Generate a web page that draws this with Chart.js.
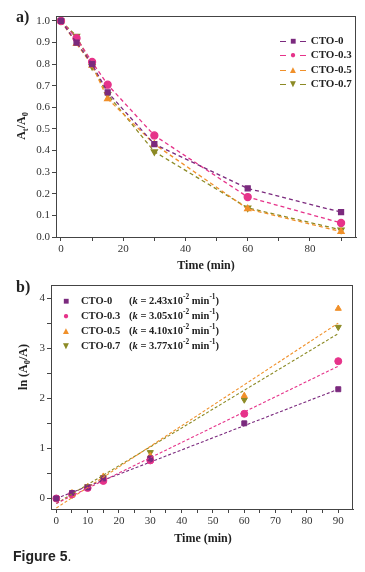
<!DOCTYPE html>
<html>
<head>
<meta charset="utf-8">
<script src="https://cdn.jsdelivr.net/npm/chart.js@4"></script>
<style>
  body { margin: 0; background: #fff; width: 365px; height: 572px; position: relative; overflow: hidden; font-family: "Liberation Serif", serif; }
  canvas { position: absolute; left: 0; }
  .lbl { position: absolute; font-weight: bold; color: #222; white-space: nowrap; }
  .ytitle { position: absolute; font-weight: bold; font-size: 12px; color: #222; white-space: nowrap; transform: translate(-50%, -50%) rotate(-90deg); }
  .xtitle { position: absolute; font-weight: bold; font-size: 12px; color: #222; transform: translate(-50%, -50%); white-space: nowrap; }
  .leg { position: absolute; font-weight: bold; font-size: 11px; color: #222; white-space: nowrap; }
  .leg .row { height: 14.3px; line-height: 14.3px; position: relative; }
  .dash { display: inline-block; width: 6px; border-top: 1.4px solid; vertical-align: middle; margin: 0 2px; }
  .mk { display: inline-block; width: 10px; text-align: center; font-size: 10px; }
  sub, sup { font-size: 70%; }
</style>
</head>
<body>
<canvas id="chartA" width="365" height="275" style="top:0"></canvas>
<canvas id="chartB" width="365" height="275" style="top:272px"></canvas>

<div class="lbl" style="left:16px; top:8px; font-size:16px;">a)</div>
<div class="ytitle" style="left:22px; top:126px;">A<sub>t</sub>/A<sub>0</sub></div>
<div class="xtitle" style="left:206px; top:265px;">Time (min)</div>
<div class="leg" id="legA" style="left:278px; top:33px;"></div>

<div class="lbl" style="left:16px; top:278px; font-size:16px;">b)</div>
<div class="ytitle" style="left:24px; top:367px;">ln (A<sub>0</sub>/A)</div>
<div class="xtitle" style="left:203px; top:538px;">Time (min)</div>
<div class="leg" id="legB" style="left:61px; top:289px; font-size:10.5px;"></div>

<div class="lbl" style="left:13px; top:548px; font-size:14px; font-family:'Liberation Sans', sans-serif;">Figure 5<span style="font-weight:normal">.</span></div>

<script>
const times = [0, 5, 10, 15, 30, 60, 90];
const names = ['CTO-0', 'CTO-0.3', 'CTO-0.5', 'CTO-0.7'];
const kLabels = ['2.43', '3.05', '4.10', '3.77'];
const colors = ['#7b2a7e', '#e6338a', '#f0902a', '#8c8a25'];
const markers = ['rect', 'circle', 'triangle', 'triangle'];
const markerRot = [0, 0, 0, 180];
const markerChars = ['\u25A0', '\u25CF', '\u25B2', '\u25BC'];

// panel a: At/A0
const ratio0 = [1.0, 0.90, 0.80, 0.67, 0.43, 0.225, 0.115];
const ratio03 = [1.0, 0.92, 0.81, 0.705, 0.47, 0.185, 0.065];
const ratio05 = [1.0, 0.895, 0.795, 0.64, 0.43, 0.13, 0.025];
const ratio07 = [1.0, 0.93, 0.79, 0.66, 0.395, 0.135, 0.033];

// panel b: ln(A0/A)
const ln0 = [0, 0.11, 0.22, 0.40, 0.80, 1.50, 2.18];
const ln03 = [0, 0.08, 0.21, 0.35, 0.76, 1.69, 2.74];
const ln05 = [0, 0.11, 0.23, 0.44, 0.85, 2.05, 3.79];
const ln07 = [0, 0.07, 0.24, 0.42, 0.92, 1.97, 3.42];

// linear fit lines, start and end
const fitX = [0, 90];
const fit0 = [0.0, 2.18];
const fit03 = [-0.10, 2.64];
const fit05 = [-0.19, 3.50];
const fit07 = [-0.10, 3.29];

const ticksA = [0, 10, 20, 30, 40, 50, 60, 70, 80, 90];
const ticksAY = [0, 0.1, 0.2, 0.3, 0.4, 0.5, 0.6, 0.7, 0.8, 0.9, 1.0];
const ticksB = [0, 5, 10, 15, 20, 25, 30, 35, 40, 45, 50, 55, 60, 65, 70, 75, 80, 85, 90];
const ticksBY = [0, 0.5, 1, 1.5, 2, 2.5, 3, 3.5, 4];

const tickFont = { family: 'Liberation Serif', size: 11 };

const boxPlugin = {
  id: 'box',
  afterDraw(chart) {
    const a = chart.chartArea, ctx = chart.ctx;
    ctx.save();
    ctx.strokeStyle = '#444';
    ctx.lineWidth = 1;
    ctx.strokeRect(a.left + 0.5, a.top + 0.5, a.right - a.left - 1, a.bottom - a.top);
    ctx.restore();
  }
};

function pts(ys) {
  return times.map((t, i) => ({ x: t, y: ys[i] }));
}
function fixTicks(vals) {
  return s => { s.ticks = vals.map(v => ({ value: v })); };
}
function axis(min, max, vals, cb, size) {
  return {
    type: 'linear', min: min, max: max,
    afterBuildTicks: fixTicks(vals),
    afterFit: s => { if (s.isHorizontal()) s.height = size; else s.width = size; },
    grid: { drawOnChartArea: false, drawTicks: true, tickLength: 4, color: '#444' },
    border: { display: true, color: '#444' },
    ticks: { font: tickFont, color: '#333', padding: 2, autoSkip: false, maxRotation: 0, callback: cb }
  };
}

// panel a
const seriesA = [ratio0, ratio03, ratio05, ratio07];
new Chart(document.getElementById('chartA'), {
  type: 'line',
  data: {
    datasets: seriesA.map((ys, i) => ({
      label: names[i],
      data: pts(ys),
      borderColor: colors[i],
      backgroundColor: colors[i],
      borderWidth: 1.3,
      borderDash: [4, 3],
      pointStyle: markers[i],
      rotation: markerRot[i],
      pointRadius: 3.5,
      tension: 0
    }))
  },
  options: {
    responsive: false,
    animation: false,
    layout: { padding: { left: 0, right: 9, top: 16, bottom: 0 } },
    plugins: { legend: { display: false }, tooltip: { enabled: false } },
    scales: {
      x: axis(-1.6, 94.8, ticksA, v => (v % 20 === 0 ? v : ''), 38),
      y: axis(0, 1.023, ticksAY, v => v.toFixed(1), 56)
    }
  },
  plugins: [boxPlugin]
});

// panel b
const seriesB = [ln0, ln03, ln05, ln07];
const fitsB = [fit0, fit03, fit05, fit07];
const dsB = [];
fitsB.forEach((f, i) => {
  dsB.push({
    label: names[i] + ' fit',
    data: fitX.map((x, j) => ({ x: x, y: f[j] })),
    borderColor: colors[i],
    borderWidth: 1.1,
    borderDash: [3, 2],
    pointRadius: 0,
    showLine: true,
    tension: 0
  });
});
seriesB.forEach((ys, i) => {
  dsB.push({
    label: names[i],
    data: pts(ys),
    borderColor: colors[i],
    backgroundColor: colors[i],
    showLine: false,
    pointStyle: markers[i],
    rotation: markerRot[i],
    pointRadius: 3.5
  });
});
new Chart(document.getElementById('chartB'), {
  type: 'scatter',
  data: { datasets: dsB },
  options: {
    responsive: false,
    animation: false,
    layout: { padding: { left: 0, right: 12, top: 13, bottom: 0 } },
    plugins: { legend: { display: false }, tooltip: { enabled: false } },
    scales: {
      x: axis(-1.7, 94.7, ticksB, v => (v % 10 === 0 ? v : ''), 38),
      y: axis(-0.21, 4.26, ticksBY, v => (Number.isInteger(v) ? v : ''), 51)
    }
  },
  plugins: [boxPlugin]
});

// legends
const legA = document.getElementById('legA');
names.forEach((n, i) => {
  const row = document.createElement('div');
  row.className = 'row';
  row.innerHTML = '<span class="dash" style="border-color:' + colors[i] + '"></span>' +
    '<span class="mk" style="color:' + colors[i] + '">' + markerChars[i] + '</span>' +
    '<span class="dash" style="border-color:' + colors[i] + '"></span> ' + n;
  legA.appendChild(row);
});
const legB = document.getElementById('legB');
names.forEach((n, i) => {
  const row = document.createElement('div');
  row.className = 'row';
  row.style.height = '15px';
  row.style.lineHeight = '15px';
  row.innerHTML = '<span class="mk" style="color:' + colors[i] + '">' + markerChars[i] + '</span>' +
    '<span style="display:inline-block; width:48px; margin-left:10px">' + n + '</span>' +
    '(<i>k</i> = ' + kLabels[i] + 'x10<sup>-2</sup> min<sup>-1</sup>)';
  legB.appendChild(row);
});
</script>
</body>
</html>
